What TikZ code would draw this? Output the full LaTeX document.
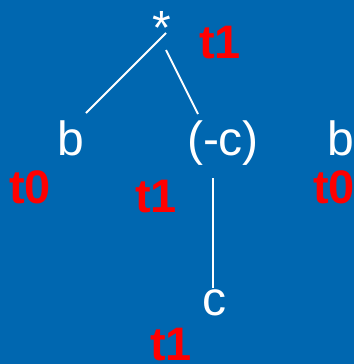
\documentclass[tikz,border=0pt]{standalone}
\usepackage{fontspec}
\setmainfont{Liberation Sans}
\definecolor{bgblue}{RGB}{0,103,176}
\definecolor{lblred}{RGB}{255,0,0}
\begin{document}
\begin{tikzpicture}[x=1pt,y=-1pt,
  term/.style={inner sep=0pt,outer sep=0pt,text=white,font=\fontsize{48}{48}\selectfont},
  tag/.style={inner sep=0pt,outer sep=0pt,text=lblred,text depth=0pt,font=\fontsize{47}{47}\selectfont\bfseries},
  edge/.style={draw=white,line width=1.8pt}]
\useasboundingbox (0,0) rectangle (354,364);
\clip (0,0) rectangle (354,364);
\fill[bgblue] (0,0) rectangle (354,364);
% terms
\node[term,anchor=base] (star) at (162,44) {*};
\node[term,anchor=base] (bl) at (70.5,155) {b};
\node[term,anchor=base] (negc) at (223,155) {(-c)};
\node[term,anchor=base west] (br) at (327,155) {b};
\node[term,anchor=base] (c) at (214,315) {c};
% tags
\node[tag,anchor=base] (t1a) at (220,58) {t1};
\node[tag,anchor=base] (t0a) at (30,203) {t0};
\node[tag,anchor=base] (t1b) at (156,212) {t1};
\node[tag,anchor=base west] (t0b) at (313,203) {t0};
\node[tag,anchor=base] (t1c) at (171,360) {t1};
% edge endpoints
\coordinate (sL) at (166,33);
\coordinate (bLtop) at (86,113);
\coordinate (sR) at (166,50);
\coordinate (ncTop) at (198,114);
\coordinate (ncBot) at (213,178);
\coordinate (cTop) at (213,288);
\draw[edge] (sL) -- (bLtop);
\draw[edge] (sR) -- (ncTop);
\draw[edge] (ncBot) -- (cTop);
\end{tikzpicture}
\end{document}
